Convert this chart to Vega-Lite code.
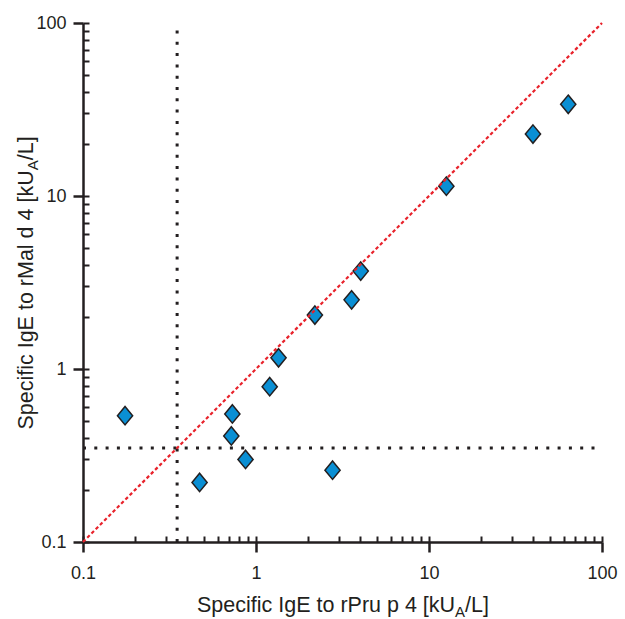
{
  "$schema": "https://vega.github.io/schema/vega-lite/v6.json",
  "width": 519,
  "height": 519,
  "autosize": {"type": "none"},
  "padding": {"left": 83, "top": 23, "right": 23, "bottom": 77},
  "background": "white",
  "config": {
    "view": {"stroke": null},
    "axis": {
      "grid": false,
      "labelFont": "Liberation Sans",
      "titleFont": "Liberation Sans",
      "labelColor": "#231f20",
      "titleColor": "#231f20",
      "titleFontWeight": "normal",
      "domainColor": "#231f20",
      "tickColor": "#231f20",
      "labelFlush": false,
      "labelOverlap": false
    }
  },
  "datasets": {
    "points": [
      {"x": 0.175, "y": 0.537},
      {"x": 0.472, "y": 0.221},
      {"x": 0.73, "y": 0.55},
      {"x": 0.72, "y": 0.41},
      {"x": 0.87, "y": 0.30},
      {"x": 2.77, "y": 0.26},
      {"x": 1.2, "y": 0.79},
      {"x": 1.35, "y": 1.16},
      {"x": 2.19, "y": 2.05},
      {"x": 3.57, "y": 2.51},
      {"x": 4.03, "y": 3.68},
      {"x": 12.6, "y": 11.4},
      {"x": 39.9, "y": 22.8},
      {"x": 63.8, "y": 33.9}
    ],
    "diag": [{"x": 0.1, "y": 0.1}, {"x": 100, "y": 100}],
    "vcut": [{"x": 0.35, "y": 0.1, "y2": 100}],
    "hcut": [{"y": 0.35, "x": 0.1, "x2": 100}]
  },
  "layer": [
    {
      "data": {"name": "vcut"},
      "mark": {"type": "rule", "color": "#231f20", "strokeWidth": 3, "strokeDash": [3, 8.3], "strokeCap": "butt"},
      "encoding": {
        "x": {"field": "x", "type": "quantitative", "scale": {"type": "log", "domain": [0.1, 100], "nice": false},
          "axis": {"orient": "bottom", "values": [0.1, 1, 10, 100], "tickCount": 100, "format": "~g", "tickSize": 10, "tickWidth": 2.5, "tickColor": "#231f20", "domainWidth": 2.5, "domainColor": "#231f20", "labelFontSize": 18, "labelPadding": 12,
            "title": "Specific IgE to rPru p 4 [kU", "titleFontSize": 21.5, "titleX": 371.6, "titleY": 69, "titleAlign": "right", "titleBaseline": "alphabetic"}},
        "y": {"field": "y", "type": "quantitative", "scale": {"type": "log", "domain": [0.1, 100], "nice": false},
          "axis": {"orient": "left", "values": [0.1, 1, 10, 100], "tickCount": 100, "format": "~g", "tickSize": 10, "tickWidth": 2.5, "tickColor": "#231f20", "domainWidth": 2.5, "domainColor": "#231f20", "labelFontSize": 18, "labelPadding": 7,
            "title": "Specific IgE to rMal d 4 [kU", "titleFontSize": 21.5, "titleAngle": -90, "titleX": -51, "titleY": 146.8, "titleAlign": "right", "titleBaseline": "alphabetic"}},
        "y2": {"field": "y2"}
      }
    },
    {
      "data": {"name": "hcut"},
      "mark": {"type": "rule", "color": "#231f20", "strokeWidth": 3, "strokeDash": [3, 8.3], "strokeCap": "butt"},
      "encoding": {
        "y": {"field": "y", "type": "quantitative", "scale": {"type": "log", "domain": [0.1, 100], "nice": false},
          "axis": {"orient": "left", "offset": -6, "values": [0.1, 0.2, 0.3, 0.4, 0.5, 0.6, 0.7, 0.8, 0.9, 1, 2, 3, 4, 5, 6, 7, 8, 9, 10, 20, 30, 40, 50, 60, 70, 80, 90, 100], "tickCount": 100,
            "tickSize": 6, "tickWidth": 2, "tickColor": "#231f20", "tickOpacity": 1, "labels": false, "domain": false,
            "title": "A", "titleFontSize": 15, "titleAngle": -90, "titleX": -52, "titleY": 146.8, "titleAlign": "left", "titleBaseline": "alphabetic"}},
        "x": {"field": "x", "type": "quantitative", "scale": {"type": "log", "domain": [0.1, 100], "nice": false},
          "axis": {"orient": "bottom", "offset": -6, "values": [0.1, 0.2, 0.3, 0.4, 0.5, 0.6, 0.7, 0.8, 0.9, 1, 2, 3, 4, 5, 6, 7, 8, 9, 10, 20, 30, 40, 50, 60, 70, 80, 90, 100], "tickCount": 100,
            "tickSize": 6, "tickWidth": 2, "tickColor": "#231f20", "tickOpacity": 1, "labels": false, "domain": false,
            "title": "A", "titleFontSize": 15, "titleX": 371.6, "titleY": 80, "titleAlign": "left", "titleBaseline": "alphabetic"}},
        "x2": {"field": "x2"}
      }
    },
    {
      "data": {"name": "points"},
      "mark": {"type": "point", "shape": "M0,-1.15L0.95,0L0,1.15L-0.95,0Z", "size": 256, "filled": true, "fill": "#0a8fd4", "stroke": "#231f20", "strokeWidth": 1.5, "fillOpacity": 1, "strokeOpacity": 1, "opacity": 1},
      "encoding": {
        "x": {"field": "x", "type": "quantitative", "scale": {"type": "log", "domain": [0.1, 100], "nice": false}, "axis": null},
        "y": {"field": "y", "type": "quantitative", "scale": {"type": "log", "domain": [0.1, 100], "nice": false}, "axis": null}
      }
    },
    {
      "data": {"name": "diag"},
      "mark": {"type": "line", "color": "#e8222b", "strokeWidth": 2.2, "strokeDash": [3.5, 2.5], "strokeCap": "butt"},
      "encoding": {
        "x": {"field": "x", "type": "quantitative", "scale": {"type": "log", "domain": [0.1, 100], "nice": false},
          "axis": {"orient": "bottom", "ticks": false, "labels": false, "domain": false,
            "title": "/L]", "titleFontSize": 21.5, "titleX": 381.6, "titleY": 69, "titleAlign": "left", "titleBaseline": "alphabetic"}},
        "y": {"field": "y", "type": "quantitative", "scale": {"type": "log", "domain": [0.1, 100], "nice": false},
          "axis": {"orient": "left", "ticks": false, "labels": false, "domain": false,
            "title": "/L]", "titleFontSize": 21.5, "titleAngle": -90, "titleX": -51, "titleY": 136.8, "titleAlign": "left", "titleBaseline": "alphabetic"}}
      }
    }
  ],
  "resolve": {"axis": {"x": "independent", "y": "independent"}}
}
